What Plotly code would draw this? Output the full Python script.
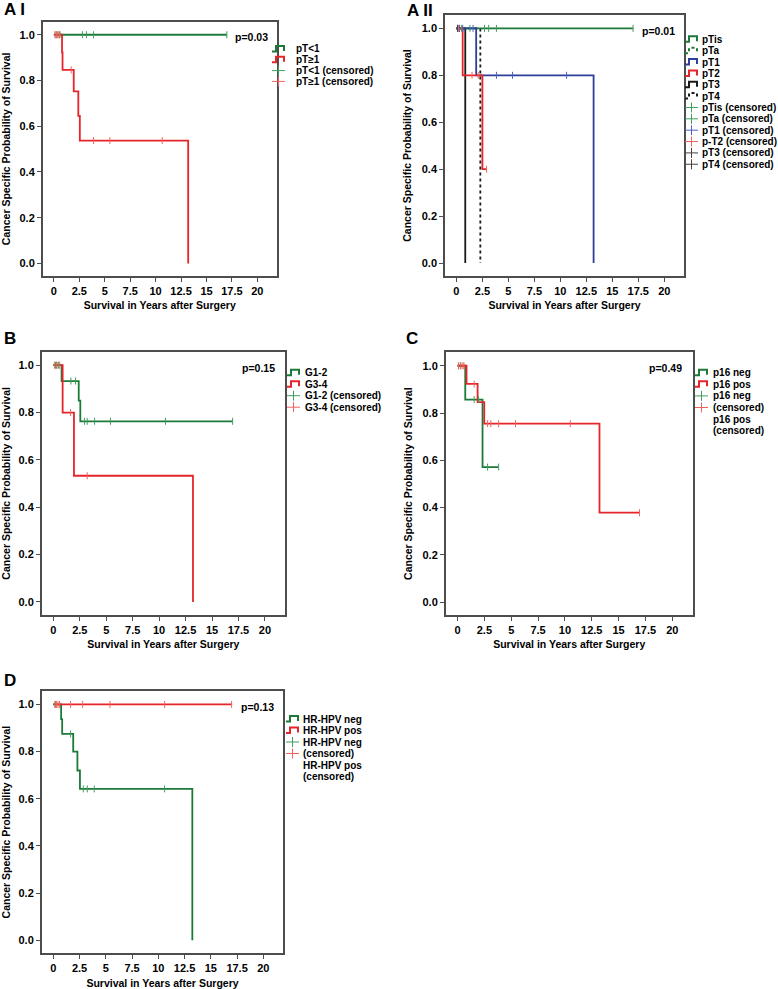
import plotly.graph_objects as go

W, H = 778, 989

# ---- data: Kaplan-Meier step points (time, survival) and censored times ----
# A I
ai_lt1_t = [0, 17.0]
ai_lt1_s = [1.0, 1.0]
ai_lt1_ct = [0.2, 0.4, 0.6, 2.8, 3.2, 3.9, 17.0]
ai_lt1_cs = [1.0, 1.0, 1.0, 1.0, 1.0, 1.0, 1.0]
ai_ge1_t = [0, 0.8, 0.85, 1.95, 2.4, 2.55, 13.2]
ai_ge1_s = [1.0, 0.923, 0.846, 0.752, 0.645, 0.537, 0.0]
ai_ge1_ct = [0.1, 0.25, 0.4, 0.55, 1.7, 3.9, 5.5, 10.65]
ai_ge1_cs = [1.0, 1.0, 1.0, 1.0, 0.846, 0.537, 0.537, 0.537]

# A II
aii_tis_t = [0, 17.0]
aii_tis_s = [1.0, 1.0]
aii_tis_ct = [0.1, 0.3, 0.5, 2.7, 3.1, 3.85, 17.0]
aii_tis_cs = [1.0, 1.0, 1.0, 1.0, 1.0, 1.0, 1.0]
aii_ta_t = [0, 1.3]
aii_ta_s = [1.0, 1.0]
aii_ta_ct = [1.3]
aii_ta_cs = [1.0]
aii_t1_t = [0, 1.9, 13.2]
aii_t1_s = [1.0, 0.8, 0.0]
aii_t1_ct = [0.3, 0.6, 1.6, 3.85, 5.4, 10.6]
aii_t1_cs = [1.0, 1.0, 1.0, 0.8, 0.8, 0.8]
aii_t2_t = [0, 0.6, 2.5, 2.9]
aii_t2_s = [1.0, 0.8, 0.4, 0.4]
aii_t2_ct = [0.2, 1.5, 2.1, 2.9]
aii_t2_cs = [1.0, 0.8, 0.8, 0.4]
aii_t3_t = [0, 0.85]
aii_t3_s = [1.0, 0.0]
aii_t3_ct = [0.1]
aii_t3_cs = [1.0]
aii_t4_t = [0, 2.3]
aii_t4_s = [1.0, 0.0]

# B
b_g12_t = [0, 0.78, 2.4, 2.55, 16.95]
b_g12_s = [1.0, 0.933, 0.85, 0.763, 0.763]
b_g12_ct = [0.2, 0.35, 0.5, 1.66, 2.1, 2.95, 3.2, 3.9, 5.4, 10.6, 16.95]
b_g12_cs = [1.0, 1.0, 1.0, 0.933, 0.933, 0.763, 0.763, 0.763, 0.763, 0.763, 0.763]
b_g34_t = [0, 0.88, 1.95, 13.2]
b_g34_s = [1.0, 0.8, 0.533, 0.0]
b_g34_ct = [0.1, 0.3, 0.6, 1.63, 3.2]
b_g34_cs = [1.0, 1.0, 1.0, 0.8, 0.533]

# C
c_neg_t = [0, 0.72, 2.33, 3.83]
c_neg_s = [1.0, 0.857, 0.571, 0.571]
c_neg_ct = [0.1, 0.3, 1.55, 1.96, 2.8, 3.83]
c_neg_cs = [1.0, 1.0, 0.857, 0.857, 0.571, 0.571]
c_pos_t = [0, 0.84, 1.87, 2.49, 13.22, 16.95]
c_pos_s = [1.0, 0.923, 0.846, 0.755, 0.378, 0.378]
c_pos_ct = [0.1, 0.3, 0.5, 0.6, 1.55, 2.8, 3.1, 3.83, 5.4, 10.5, 16.95]
c_pos_cs = [1.0, 1.0, 1.0, 1.0, 0.923, 0.755, 0.755, 0.755, 0.755, 0.755, 0.378]

# D
d_neg_t = [0, 0.75, 0.85, 1.9, 2.3, 2.54, 13.24]
d_neg_s = [1.0, 0.938, 0.875, 0.8, 0.72, 0.642, 0.0]
d_neg_ct = [0.2, 1.65, 2.86, 3.24, 3.9, 10.6]
d_neg_cs = [1.0, 0.875, 0.642, 0.642, 0.642, 0.642]
d_pos_t = [0, 16.98]
d_pos_s = [1.0, 1.0]
d_pos_ct = [0.15, 0.3, 0.45, 0.6, 1.65, 2.8, 5.4, 10.6, 16.98]
d_pos_cs = [1.0] * 9

x_ticks = [0, 2.5, 5, 7.5, 10, 12.5, 15, 17.5, 20]
x_ticktext = ['0', '2.5', '5', '7.5', '10', '12.5', '15', '17.5', '20']
y_ticks = [0, 0.2, 0.4, 0.6, 0.8, 1.0]
y_ticktext = ['0.0', '0.2', '0.4', '0.6', '0.8', '1.0']
p_values = ['p=0.03', 'p=0.01', 'p=0.15', 'p=0.49', 'p=0.13']
panel_labels = ['A I', 'A II', 'B', 'C', 'D']

GREEN = '#1c7a38'
GREEN_C = '#3f9e5f'
RED = '#e5242b'
RED_C = '#f2625d'
BLUE = '#2c3f99'
BLUE_C = '#4a62c0'
BLACK = '#1a1a1a'
BLACK_C = '#444444'
FONT = 'Liberation Sans, Arial, sans-serif'

# panel boxes in pixels: left, right, top, bottom
boxes = [
    (42.7, 276.7, 21.7, 276.0),
    (445.0, 684.0, 15.0, 276.0),
    (41.7, 285.0, 351.7, 615.0),
    (445.7, 692.7, 352.3, 615.0),
    (41.7, 283.3, 691.0, 953.3),
]

fig = go.Figure()


def curve(i, t, s, color, dash='solid'):
    sfx = '' if i == 0 else str(i + 1)
    fig.add_trace(go.Scatter(x=t, y=s, mode='lines', line_shape='hv',
                             line=dict(color=color, width=1.8, dash=dash),
                             xaxis='x' + sfx, yaxis='y' + sfx, showlegend=False,
                             hoverinfo='skip'))


def censored(i, t, s, color):
    sfx = '' if i == 0 else str(i + 1)
    fig.add_trace(go.Scatter(x=t, y=s, mode='markers',
                             marker=dict(symbol='line-ns', size=5,
                                         line=dict(color=color, width=1)),
                             xaxis='x' + sfx, yaxis='y' + sfx, showlegend=False,
                             hoverinfo='skip'))


# A I
curve(0, ai_lt1_t, ai_lt1_s, GREEN)
curve(0, ai_ge1_t, ai_ge1_s, RED)
censored(0, ai_lt1_ct, ai_lt1_cs, GREEN_C)
censored(0, ai_ge1_ct, ai_ge1_cs, RED_C)
# A II
curve(1, aii_t4_t, aii_t4_s, BLACK, 'dot')
curve(1, aii_t3_t, aii_t3_s, BLACK)
curve(1, aii_tis_t, aii_tis_s, GREEN)
curve(1, aii_ta_t, aii_ta_s, GREEN, 'dot')
curve(1, aii_t1_t, aii_t1_s, BLUE)
curve(1, aii_t2_t, aii_t2_s, RED)
censored(1, aii_tis_ct, aii_tis_cs, GREEN_C)
censored(1, aii_ta_ct, aii_ta_cs, GREEN_C)
censored(1, aii_t1_ct, aii_t1_cs, BLUE_C)
censored(1, aii_t2_ct, aii_t2_cs, RED_C)
censored(1, aii_t3_ct, aii_t3_cs, BLACK_C)
# B
curve(2, b_g12_t, b_g12_s, GREEN)
curve(2, b_g34_t, b_g34_s, RED)
censored(2, b_g12_ct, b_g12_cs, GREEN_C)
censored(2, b_g34_ct, b_g34_cs, RED_C)
# C
curve(3, c_neg_t, c_neg_s, GREEN)
curve(3, c_pos_t, c_pos_s, RED)
censored(3, c_neg_ct, c_neg_cs, GREEN_C)
censored(3, c_pos_ct, c_pos_cs, RED_C)
# D
curve(4, d_neg_t, d_neg_s, GREEN)
curve(4, d_pos_t, d_pos_s, RED)
censored(4, d_neg_ct, d_neg_cs, GREEN_C)
censored(4, d_pos_ct, d_pos_cs, RED_C)

tick_font = dict(family=FONT, size=11, color='black', weight='bold')
title_font = dict(family=FONT, size=10.5, color='black', weight='bold')
axes = {}
for i, (l, r, t, b) in enumerate(boxes):
    sfx = '' if i == 0 else str(i + 1)
    axes['xaxis' + sfx] = dict(
        domain=[l / W, r / W], range=[-1.1, 21.9], anchor='y' + sfx,
        tickvals=x_ticks, ticktext=x_ticktext, tickfont=tick_font,
        showline=True, mirror=True, linecolor='#4d4d4d', linewidth=1.5,
        ticks='outside', ticklen=4, tickcolor='#4d4d4d', tickwidth=1,
        showgrid=False, zeroline=False,
        title=dict(text='Survival in Years after Surgery', font=title_font, standoff=6))
    axes['yaxis' + sfx] = dict(
        domain=[1 - b / H, 1 - t / H], range=[-0.055, 1.057], anchor='x' + sfx,
        tickvals=y_ticks, ticktext=y_ticktext, tickfont=tick_font,
        showline=True, mirror=True, linecolor='#4d4d4d', linewidth=1.5,
        ticks='outside', ticklen=4, tickcolor='#4d4d4d', tickwidth=1,
        showgrid=False, zeroline=False,
        title=dict(text='Cancer Specific Probability of Survival', font=title_font, standoff=8))

annotations = []
shapes = []

# p-values
for i, p in enumerate(p_values):
    sfx = '' if i == 0 else str(i + 1)
    annotations.append(dict(x=19.4, y=0.99, xref='x' + sfx, yref='y' + sfx,
                            text=p, showarrow=False, xanchor='center', yanchor='middle',
                            font=dict(family=FONT, size=10.5, color='black', weight='bold')))

# panel labels (pixel positions)
label_pos = [(2, 10), (405, 10.5), (2, 339), (404, 339), (2, 680)]
for lab, (x, y) in zip(panel_labels, label_pos):
    annotations.append(dict(x=x / W, y=1 - y / H, xref='paper', yref='paper', text=lab,
                            showarrow=False, xanchor='left', yanchor='middle',
                            font=dict(family=FONT, size=17, color='black', weight='bold')))


def P(x, y):
    return '%.5f,%.5f' % (x / W, 1 - y / H)


def step_icon(x0, yc, color, dash='solid'):
    path = 'M %s L %s L %s L %s L %s' % (P(x0, yc + 2.5), P(x0 + 4, yc + 2.5), P(x0 + 4, yc - 3),
                                      P(x0 + 12, yc - 3), P(x0 + 12, yc + 2))
    shapes.append(dict(type='path', path=path, xref='paper', yref='paper',
                       line=dict(color=color, width=2, dash=dash)))


def cross_icon(x0, yc, color):
    shapes.append(dict(type='line', xref='paper', yref='paper', x0=x0 / W, x1=(x0 + 13) / W,
                       y0=1 - yc / H, y1=1 - yc / H, line=dict(color=color, width=1)))
    shapes.append(dict(type='line', xref='paper', yref='paper', x0=(x0 + 6.5) / W, x1=(x0 + 6.5) / W,
                       y0=1 - (yc - 5) / H, y1=1 - (yc + 5) / H, line=dict(color=color, width=1)))


def legend_text(x, y, text):
    annotations.append(dict(x=x / W, y=1 - y / H, xref='paper', yref='paper', text=text,
                            showarrow=False, xanchor='left', yanchor='middle',
                            font=dict(family=FONT, size=10, color='black', weight='bold')))


# legends: (icon kind, color, dash) per row; text rows separately
legends = [
    dict(x=272, tx=294, y0=49, dy=10.8,
         icons=[('s', GREEN, 'solid'), ('s', RED, 'solid'), ('c', GREEN_C, ''), ('c', RED_C, '')],
         texts=['pT<1', 'pT≥1', 'pT<1 (censored)', 'pT≥1 (censored)']),
    dict(x=685, tx=700, y0=39.3, dy=11.36,
         icons=[('s', GREEN, 'solid'), ('s', GREEN, 'dot'), ('s', BLUE, 'solid'), ('s', RED, 'solid'),
                ('s', BLACK, 'solid'), ('s', BLACK, 'dot'), ('c', GREEN_C, ''), ('c', GREEN_C, ''),
                ('c', BLUE_C, ''), ('c', RED_C, ''), ('c', BLACK_C, ''), ('c', BLACK_C, '')],
         texts=['pTis', 'pTa', 'pT1', 'pT2', 'pT3', 'pT4', 'pTis (censored)', 'pTa (censored)',
                'pT1 (censored)', 'p-T2 (censored)', 'pT3 (censored)', 'pT4 (censored)']),
    dict(x=287, tx=303, y0=372.7, dy=11.5,
         icons=[('s', GREEN, 'solid'), ('s', RED, 'solid'), ('c', GREEN_C, ''), ('c', RED_C, '')],
         texts=['G1-2', 'G3-4', 'G1-2 (censored)', 'G3-4 (censored)']),
    dict(x=695, tx=711, y0=372.7, dy=11.6,
         icons=[('s', GREEN, 'solid'), ('s', RED, 'solid'), ('c', GREEN_C, ''), ('c', RED_C, '')],
         texts=['p16 neg', 'p16 pos', 'p16 neg', '(censored)', 'p16 pos', '(censored)']),
    dict(x=286, tx=301, y0=719, dy=11.5,
         icons=[('s', GREEN, 'solid'), ('s', RED, 'solid'), ('c', GREEN_C, ''), ('c', RED_C, '')],
         texts=['HR-HPV neg', 'HR-HPV pos', 'HR-HPV neg', '(censored)', 'HR-HPV pos', '(censored)']),
]
for lg in legends:
    for k, (kind, col, dash) in enumerate(lg['icons']):
        yc = lg['y0'] + k * lg['dy']
        if kind == 's':
            step_icon(lg['x'], yc, col, dash)
        else:
            cross_icon(lg['x'], yc, col)
    for k, txt in enumerate(lg['texts']):
        legend_text(lg['tx'], lg['y0'] + k * lg['dy'], txt)

fig.update_layout(width=W, height=H, margin=dict(l=0, r=0, t=0, b=0),
                  paper_bgcolor='white', plot_bgcolor='white', showlegend=False,
                  annotations=annotations, shapes=shapes, **axes)

# drop the default page margin so the figure sits at the window's top-left corner
fig.write_html("out.html", config={'displayModeBar': False},
               post_script="document.body.style.margin='0';")
